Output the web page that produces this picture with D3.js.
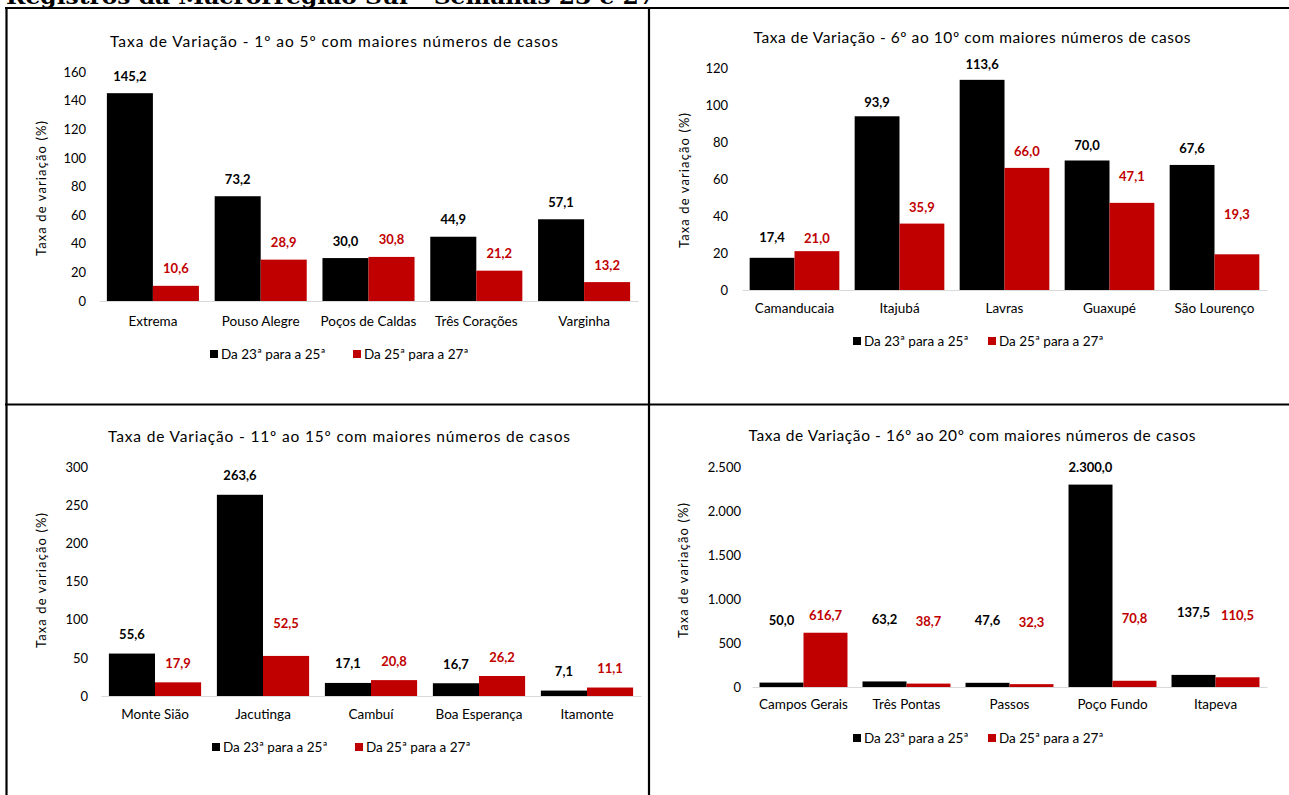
<!DOCTYPE html>
<html><head><meta charset="utf-8">
<script src="https://cdn.jsdelivr.net/npm/d3@7"></script>
<style>body{margin:0;background:#fff}svg{display:block}</style>
</head><body>
<svg id="c" width="1289" height="795"></svg>
<script>
// ---------- data ----------
const pageTitle = "Registros da Macrorregião Sul - Semanas 23 e 27";
const seriesNames = ["Da 23ª para a 25ª", "Da 25ª para a 27ª"];
const yAxisTitle = "Taxa de variação (%)";

const title1 = "Taxa de Variação - 1º ao 5º com maiores números de casos";
const cats1 = ["Extrema", "Pouso Alegre", "Poços de Caldas", "Três Corações", "Varginha"];
const serieA1 = [145.2, 73.2, 30.0, 44.9, 57.1];
const serieB1 = [10.6, 28.9, 30.8, 21.2, 13.2];
const ticks1 = [0, 20, 40, 60, 80, 100, 120, 140, 160];

const title2 = "Taxa de Variação - 6º ao 10º  com maiores números de casos";
const cats2 = ["Camanducaia", "Itajubá", "Lavras", "Guaxupé", "São Lourenço"];
const serieA2 = [17.4, 93.9, 113.6, 70.0, 67.6];
const serieB2 = [21.0, 35.9, 66.0, 47.1, 19.3];
const ticks2 = [0, 20, 40, 60, 80, 100, 120];

const title3 = "Taxa de Variação - 11º ao 15º com maiores números de casos";
const cats3 = ["Monte Sião", "Jacutinga", "Cambuí", "Boa Esperança", "Itamonte"];
const serieA3 = [55.6, 263.6, 17.1, 16.7, 7.1];
const serieB3 = [17.9, 52.5, 20.8, 26.2, 11.1];
const ticks3 = [0, 50, 100, 150, 200, 250, 300];

const title4 = "Taxa de Variação - 16º ao 20º com maiores números de casos";
const cats4 = ["Campos Gerais", "Três Pontas", "Passos", "Poço Fundo", "Itapeva"];
const serieA4 = [50.0, 63.2, 47.6, 2300.0, 137.5];
const serieB4 = [616.7, 38.7, 32.3, 70.8, 110.5];
const ticks4 = [0, 500, 1000, 1500, 2000, 2500];

// ---------- layout (positions / styles only) ----------
const colors = ["#000000", "#c00000"];
const FONT = "Lato, 'Open Sans', sans-serif";
// label lift above bar top (px), per series [black, red] and category index
const lift2 = [[20, 14, 15, 15.5, 16], [13, 16.5, 16, 26, 40]];
const panels = [
  {title: title1, cats: cats1, a: serieA1, b: serieB1, ticks: ticks1,
   x0: 99, x1: 638, zero: 301, top: 72, tickX: 86, titleX: 334, titleY: 47, titleW: 448,
   ylx: 46, yly: 188, catY: 326, legY: 354, legX: [210, 353], lift: () => 17},
  {title: title2, cats: cats2, a: serieA2, b: serieB2, ticks: ticks2,
   x0: 742, x1: 1267, zero: 290, top: 68, tickX: 728, titleX: 972, titleY: 43, titleW: 437,
   ylx: 689, yly: 180, catY: 313, legY: 341, legX: [853, 988], lift: (v, k, i) => lift2[k][i]},
  {title: title3, cats: cats3, a: serieA3, b: serieB3, ticks: ticks3,
   x0: 101, x1: 641, zero: 696, top: 467, tickX: 88, titleX: 339, titleY: 442, titleW: 462,
   ylx: 46, yly: 580, catY: 719, legY: 747, legX: [212, 355], lift: (v, k, i) => (k === 1 && i === 1) ? 32 : 19},
  {title: title4, cats: cats4, a: serieA4, b: serieB4, ticks: ticks4,
   x0: 752, x1: 1267, zero: 687, top: 467, tickX: 741, titleX: 972, titleY: 441, titleW: 447,
   ylx: 688, yly: 570, catY: 709, legY: 738, legX: [853, 988], lift: v => v > 300 ? 17 : 62}
];

const loc = d3.formatLocale({decimal: ",", thousands: ".", grouping: [3], currency: ["R$", ""]});
const fmtVal = loc.format(",.1f");
const fmtTick = loc.format(",d");

const svg = d3.select("#c");

// page title (cut at the top)
svg.append("text").attr("x", 6).attr("y", 4)
  .attr("font-family", "'DejaVu Serif', 'Liberation Serif', serif")
  .attr("font-weight", "bold").attr("font-size", 21)
  .attr("textLength", 649).attr("lengthAdjust", "spacingAndGlyphs")
  .text(pageTitle);

// table grid
const grid = svg.append("g").attr("stroke", "#000").attr("stroke-width", 2.2).attr("fill", "none");
grid.append("line").attr("x1", 5).attr("x2", 1289).attr("y1", 8).attr("y2", 8);
grid.append("line").attr("x1", 6.5).attr("x2", 6.5).attr("y1", 7).attr("y2", 795);
grid.append("line").attr("x1", 649).attr("x2", 649).attr("y1", 7).attr("y2", 795);
grid.append("line").attr("x1", 5).attr("x2", 1289).attr("y1", 404.5).attr("y2", 404.5);

panels.forEach(p => {
  const g = svg.append("g");
  const yMax = p.ticks[p.ticks.length - 1];
  const y = d3.scaleLinear().domain([0, yMax]).range([p.zero, p.top]);
  const x = d3.scaleBand().domain(p.cats).range([p.x0, p.x1]).paddingInner(0.146).paddingOuter(0.073);
  const xs = d3.scaleBand().domain([0, 1]).range([0, x.bandwidth()]);

  // title
  g.append("text").attr("x", p.titleX).attr("y", p.titleY).attr("text-anchor", "middle")
    .attr("font-family", FONT).attr("font-size", 15.5).attr("fill", "#000")
    .attr("textLength", p.titleW).attr("lengthAdjust", "spacing").text(p.title);

  // y axis (labels only)
  const yAxis = d3.axisLeft(y).tickValues(p.ticks).tickSize(0).tickPadding(0).tickFormat(fmtTick);
  const ya = g.append("g").attr("transform", `translate(${p.tickX},0)`).call(yAxis);
  ya.select(".domain").remove();
  ya.selectAll("text").attr("font-family", FONT).attr("font-size", 13).attr("fill", "#000");

  // y axis title
  g.append("text").attr("transform", `translate(${p.ylx},${p.yly}) rotate(-90)`)
    .attr("text-anchor", "middle").attr("font-family", FONT).attr("font-size", 13)
    .attr("letter-spacing", 1.1).text(yAxisTitle);

  // bars
  const rows = p.cats.map((c, i) => ({c, i, vals: [p.a[i], p.b[i]]}));
  const grp = g.selectAll("g.cat").data(rows).join("g").attr("class", "cat")
    .attr("transform", d => `translate(${x(d.c)},0)`);
  grp.selectAll("rect").data(d => d.vals.map((v, k) => ({v, k, i: d.i}))).join("rect")
    .attr("x", d => xs(d.k)).attr("width", xs.bandwidth())
    .attr("y", d => y(d.v)).attr("height", d => y(0) - y(d.v))
    .attr("fill", d => colors[d.k]);
  grp.selectAll("text").data(d => d.vals.map((v, k) => ({v, k, i: d.i}))).join("text")
    .attr("x", d => xs(d.k) + xs.bandwidth() / 2)
    .attr("y", d => y(d.v) - p.lift(d.v, d.k, d.i) + 4.5)
    .attr("text-anchor", "middle").attr("font-family", FONT).attr("font-weight", "bold")
    .attr("font-size", 13).attr("fill", d => d.k ? "#c00000" : "#000")
    .text(d => fmtVal(d.v));

  // x axis
  const xAxis = d3.axisBottom(x).tickSize(0).tickPadding(0);
  const xa = g.append("g").attr("transform", `translate(0,${p.zero})`).call(xAxis);
  xa.select(".domain").attr("stroke", "#d9d9d9").attr("stroke-width", 1.2);
  xa.selectAll("text").attr("dy", null).attr("y", p.catY - p.zero)
    .attr("font-family", FONT).attr("font-size", 13.5).attr("fill", "#000");

  // legend
  const lg = g.append("g");
  seriesNames.forEach((s, k) => {
    lg.append("rect").attr("x", p.legX[k]).attr("y", p.legY - 4).attr("width", 8).attr("height", 8)
      .attr("fill", colors[k]);
    lg.append("text").attr("x", p.legX[k] + 11).attr("y", p.legY + 4.5)
      .attr("font-family", FONT).attr("font-size", 13.5).attr("fill", "#000").text(s);
  });
});
</script>
</body></html>
